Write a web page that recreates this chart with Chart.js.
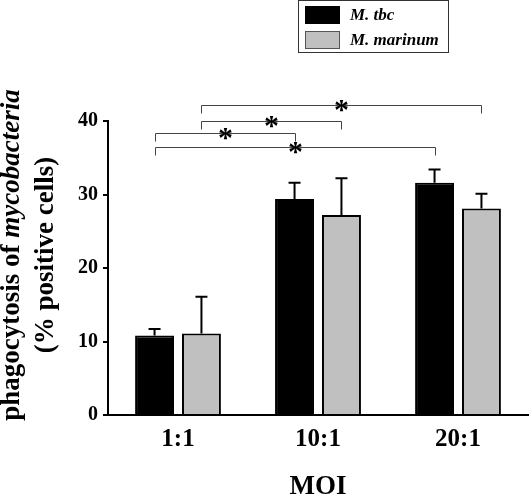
<!DOCTYPE html>
<html>
<head>
<meta charset="utf-8">
<script src="https://cdn.jsdelivr.net/npm/chart.js@4"></script>
<style>
  body { margin: 0; background: #fff; }
  #wrap { width: 530px; height: 495px; position: relative; }
</style>
</head>
<body>
<div id="wrap"><canvas id="chart"></canvas></div>
<script>
const moi = ["1:1", "10:1", "20:1"];
const tbc = [10.8, 29.4, 31.6];
const tbcErr = [0.9, 2.2, 1.8];
const marinum = [11.1, 27.2, 28.1];
const marinumErr = [5.0, 5.0, 2.0];
const yTicks = [0, 10, 20, 30, 40];
// significance brackets: [dataset, from category, to category, level]
const brackets = [
  [1, 0, 2, 42.2],
  [1, 0, 1, 40.0],
  [0, 0, 1, 38.3],
  [0, 0, 2, 36.4],
];

const serif = '"Liberation Serif", "Times New Roman", serif';

const errorBars = {
  id: "errorBars",
  afterDatasetsDraw(chart) {
    const ctx = chart.ctx;
    const y = chart.scales.y;
    [tbcErr, marinumErr].forEach((errs, i) => {
      const meta = chart.getDatasetMeta(i);
      meta.data.forEach((bar, j) => {
        const top = y.getPixelForValue(chart.data.datasets[i].data[j] + errs[j]);
        ctx.save();
        ctx.strokeStyle = "#000";
        ctx.lineWidth = 2;
        ctx.beginPath();
        ctx.moveTo(bar.x, bar.y);
        ctx.lineTo(bar.x, top);
        ctx.moveTo(bar.x - 6, top);
        ctx.lineTo(bar.x + 6, top);
        ctx.stroke();
        ctx.restore();
      });
    });
  }
};

const extras = {
  id: "extras",
  afterDraw(chart) {
    const ctx = chart.ctx;
    const y = chart.scales.y;

    // brackets with stars
    brackets.forEach(([ds, a, b, level]) => {
      const meta = chart.getDatasetMeta(ds);
      const x1 = Math.round(meta.data[a].x) + 0.5;
      const x2 = Math.round(meta.data[b].x) + 0.5;
      const ly = Math.round(y.getPixelForValue(level)) + 0.5;
      ctx.save();
      ctx.strokeStyle = "#444";
      ctx.lineWidth = 1;
      ctx.beginPath();
      ctx.moveTo(x1, ly + 8);
      ctx.lineTo(x1, ly);
      ctx.lineTo(x2, ly);
      ctx.lineTo(x2, ly + 8);
      ctx.stroke();
      ctx.fillStyle = "#000";
      ctx.font = "bold 30px " + serif;
      ctx.textAlign = "center";
      ctx.textBaseline = "alphabetic";
      ctx.fillText("*", (x1 + x2) / 2, ly + 13);
      ctx.restore();
    });

    // legend box
    ctx.save();
    ctx.strokeStyle = "#333";
    ctx.lineWidth = 1;
    ctx.strokeRect(298.5, 0.5, 150, 52);
    chart.data.datasets.forEach((d, i) => {
      const top = 6 + i * 25;
      ctx.fillStyle = d.backgroundColor;
      ctx.fillRect(305, top, 35, 18);
      ctx.strokeStyle = i === 0 ? "#000" : "#555";
      ctx.strokeRect(305.5, top + 0.5, 34, 17);
      ctx.fillStyle = "#000";
      ctx.font = "italic bold 17px " + serif;
      ctx.textAlign = "left";
      ctx.textBaseline = "middle";
      ctx.fillText(d.label, 350, top + 10);
    });
    ctx.restore();

    // y axis title, two lines, with italic part
    ctx.save();
    ctx.fillStyle = "#000";
    ctx.textBaseline = "middle";
    ctx.translate(0, 255);
    ctx.rotate(-Math.PI / 2);
    const fa = "bold 27px " + serif;
    const fb = "italic bold 27px " + serif;
    ctx.font = fa;
    const w1 = ctx.measureText("phagocytosis of ").width;
    ctx.font = fb;
    const w2 = ctx.measureText("mycobacteria").width;
    let sx = -(w1 + w2) / 2;
    ctx.textAlign = "left";
    ctx.font = fa;
    ctx.fillText("phagocytosis of ", sx, 12);
    ctx.font = fb;
    ctx.fillText("mycobacteria", sx + w1, 12);
    ctx.font = fa;
    ctx.textAlign = "center";
    ctx.fillText("(% positive cells)", 0, 46);
    ctx.restore();
  }
};

new Chart(document.getElementById("chart"), {
  type: "bar",
  data: {
    labels: moi,
    datasets: [
      {
        label: "M. tbc",
        data: tbc,
        backgroundColor: "#000000",
        borderColor: "#000000",
        borderWidth: 2,
        categoryPercentage: 0.67,
        barPercentage: 0.83,
      },
      {
        label: "M. marinum",
        data: marinum,
        backgroundColor: "#c0c0c0",
        borderColor: "#000000",
        borderWidth: 2,
        categoryPercentage: 0.67,
        barPercentage: 0.83,
      },
    ],
  },
  options: {
    responsive: true,
    maintainAspectRatio: false,
    animation: false,
    layout: { padding: { top: 121, left: 0, right: 2, bottom: 0 } },
    plugins: {
      legend: { display: false },
      tooltip: { enabled: false },
    },
    scales: {
      x: {
        grid: { display: false, drawTicks: false },
        border: { display: true, color: "#000", width: 2 },
        ticks: {
          color: "#000",
          padding: 10,
          font: { family: serif, size: 25, weight: "bold" },
        },
        title: {
          display: true,
          text: "MOI",
          color: "#000",
          font: { family: serif, size: 27, weight: "bold" },
          padding: { top: 0, bottom: -8 },
        },
        afterFit: (s) => { s.height = 80; },
      },
      y: {
        min: 0,
        max: 40,
        afterBuildTicks: (s) => { s.ticks = yTicks.map((v) => ({ value: v })); },
        grid: { drawOnChartArea: false, drawTicks: true, tickLength: 5, color: "#000", lineWidth: 2 },
        border: { display: true, color: "#000", width: 2 },
        ticks: {
          color: "#000",
          padding: 5,
          font: { family: serif, size: 20, weight: "bold" },
        },
        afterFit: (s) => { s.width = 108; },
      },
    },
  },
  plugins: [errorBars, extras],
});
</script>
</body>
</html>
